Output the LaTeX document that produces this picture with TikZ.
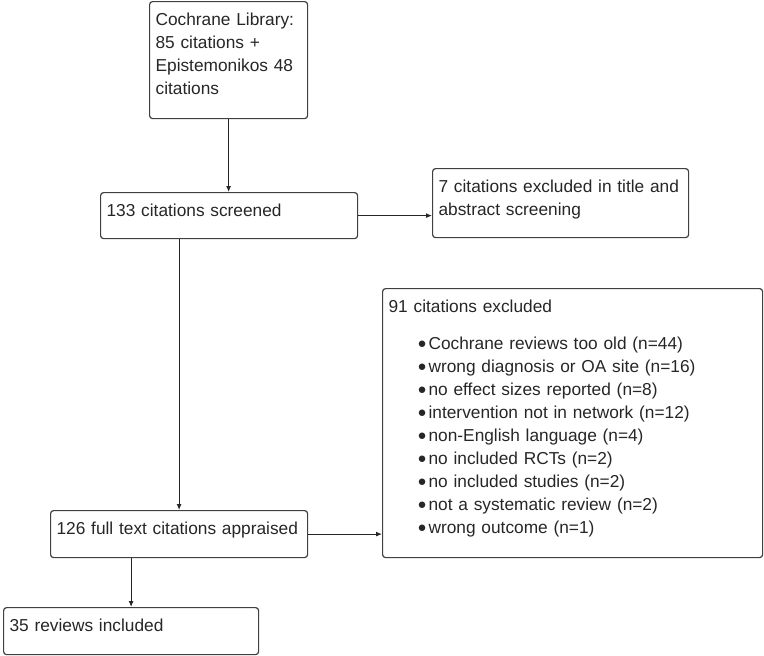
\documentclass[tikz,border=0pt]{standalone}
\usepackage{fontspec}
\setmainfont{Liberation Sans}
\usetikzlibrary{arrows.meta}
\newcommand{\bul}{\hspace*{29pt}\makebox[11pt][l]{\raisebox{1pt}{\fontsize{15}{15}\selectfont ●}}}

\begin{document}
\begin{tikzpicture}[x=1pt, y=-1pt, >={Latex[length=6pt,width=5pt]},
        box/.style={draw=black!75, line width=1.2pt, rounded corners=3pt, anchor=north west,
            align=left, inner xsep=6pt, inner ysep=0pt, text height=24pt,
            font=\fontsize{17.3}{23}\selectfont, text=black!85},
        flow/.style={->, line width=1pt, black!85}]
        \useasboundingbox (0,0) rectangle (764,656);
        % Caixas do fluxograma
        \node[box, text width=146pt, text depth=93pt] (sources) at (149,1)
            {Cochrane Library:\\85 citations +\\Epistemonikos 48\\citations};
        \node[box, text width=245pt, text depth=22pt] (screened) at (100,192) {133 citations screened};
        \node[box, text width=244pt, text depth=45pt] (exclTitle) at (432,168)
            {7 citations excluded in title and\\abstract screening};
        \node[box, text width=368pt, text depth=245pt] (exclFull) at (382,288)
            {91 citations excluded\\[14pt]
             \bul Cochrane reviews too old (n=44)\\
             \bul wrong diagnosis or OA site (n=16)\\
             \bul no effect sizes reported (n=8)\\
             \bul intervention not in network (n=12)\\
             \bul non-English language (n=4)\\
             \bul no included RCTs (n=2)\\
             \bul no included studies (n=2)\\
             \bul not a systematic review (n=2)\\
             \bul wrong outcome (n=1)};
        \node[box, text width=245pt, text depth=23pt] (fullText) at (50,510) {126 full text citations appraised};
        \node[box, text width=243pt, text depth=23pt] (included) at (3,607) {35 reviews included};
        % Setas
        \draw[flow] (sources.south) -- (sources.south |- screened.north);
        \draw[flow] (screened.east) -- (screened.east -| exclTitle.west);
        \draw[flow] (fullText.north |- screened.south) -- (fullText.north);
        \draw[flow] (fullText.east) -- (fullText.east -| exclFull.west);
        \draw[flow] (included.north |- fullText.south) -- (included.north);
    \end{tikzpicture}
\end{document}
